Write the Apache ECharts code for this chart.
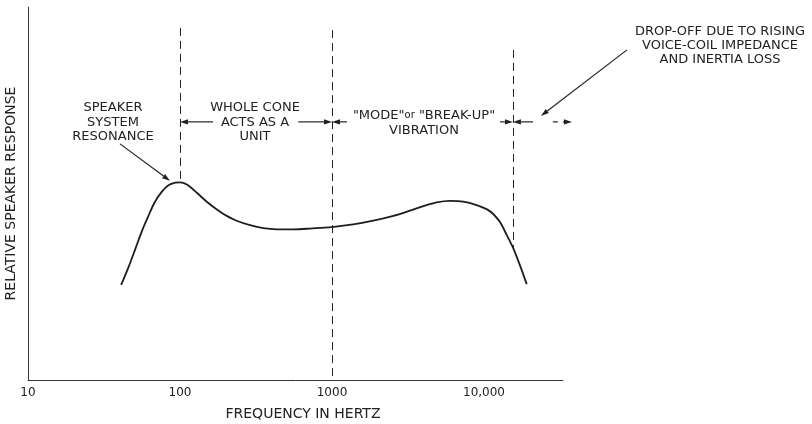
<!DOCTYPE html>
<html>
<head>
<meta charset="utf-8">
<style>
  html, body { margin: 0; padding: 0; background: #ffffff; }
  #chart { width: 812px; height: 424px; }
</style>
<script src="https://cdn.jsdelivr.net/npm/echarts@6/dist/echarts.min.js"></script>
</head>
<body>
<div id="chart"></div>
<script>
// Loudspeaker response curve (relative level vs frequency, log scale)
const freqHz = [41, 46, 51, 56, 62, 68, 76, 84, 93, 100,
                111, 129, 150, 174, 203, 236, 289, 353, 433, 557,
                717, 834, 1000, 1380, 1870, 2530, 3260, 3990, 4880, 5980,
                7310, 8950, 10400, 11500, 12800, 14100, 15600, 17300, 19100];
const response = [25.5, 30.4, 35.3, 39.8, 44.0, 47.6, 50.5, 52.2, 52.9, 53.0,
                  52.4, 50.2, 47.8, 45.8, 44.0, 42.7, 41.5, 40.7, 40.4, 40.4,
                  40.6, 40.8, 41.0, 41.7, 42.7, 44.0, 45.4, 46.6, 47.6, 48.0,
                  47.8, 46.9, 45.8, 44.5, 42.2, 38.9, 35.3, 30.6, 25.7];

// Frequency tick labels
const xTickLabels = [10, 100, 1000, 10000];

// Region boundaries (dashed verticals): frequency, top and bottom level
const boundaryHz = [100, 1000, 15500];
const boundaryTop = [94.4, 93.8, 88.5];
const boundaryBottom = [53.0, 0, 35.4];

// Span arrows marking the regions, all on one level
const spanFromHz = [165, 600, 1255, 12750, 21000, 28400];
const spanToHz = [100, 1000, 1000, 15500, 15500, 37900];
const spanDashed = [0, 0, 0, 0, 0, 1];
const spanLevel = 69.2;

// Leader arrows from the notes to the curve
const leaderFrom = [[40.3, 63.3], [87300, 88.5]];
const leaderTo = [[85.9, 53.4], [23700, 70.8]];

// Note texts
const noteResonance = 'SPEAKER\nSYSTEM\nRESONANCE';
const noteWholeCone = 'WHOLE CONE\nACTS AS A\nUNIT';
const noteDropOff = 'DROP-OFF DUE TO RISING\nVOICE-COIL IMPEDANCE\nAND INERTIA LOSS';

const INK = '#222222';
const FONT = 'DejaVu Sans';

const curveData = freqHz.map((f, i) => [f, response[i]]);
const boundaryData = boundaryHz.map((f, i) => [f, boundaryTop[i], f, boundaryBottom[i]]);
const arrowData = spanFromHz.map((f, i) => [f, spanLevel, spanToHz[i], spanLevel, spanDashed[i]])
  .concat(leaderFrom.map((p, i) => [p[0], p[1], leaderTo[i][0], leaderTo[i][1], 0]));

// Dashed vertical, snapped to the pixel grid so it stays crisp
function renderBoundary(params, api) {
  const a = api.coord([api.value(0), api.value(1)]);
  const b = api.coord([api.value(2), api.value(3)]);
  const x = Math.round(a[0]) + 0.5;
  return {
    type: 'line',
    shape: { x1: x, y1: a[1], x2: x, y2: b[1] },
    style: { stroke: INK, lineWidth: 1, lineDash: [8, 5] }
  };
}

// Straight shaft with a filled head at the second point
function renderArrow(params, api) {
  const a = api.coord([api.value(0), api.value(1)]);
  const b = api.coord([api.value(2), api.value(3)]);
  const dashed = api.value(4) === 1;
  const dx = b[0] - a[0], dy = b[1] - a[1];
  const len = Math.hypot(dx, dy) || 1;
  const ux = dx / len, uy = dy / len;
  const headLen = 8, headHalf = 2.6;
  const bx = b[0] - ux * headLen, by = b[1] - uy * headLen;
  return {
    type: 'group',
    children: [
      {
        type: 'line',
        shape: { x1: a[0], y1: a[1], x2: bx, y2: by },
        style: { stroke: INK, lineWidth: 1.2, lineDash: dashed ? [5, 5] : null }
      },
      {
        type: 'polygon',
        shape: { points: [[b[0], b[1]], [bx - uy * headHalf, by + ux * headHalf], [bx + uy * headHalf, by - ux * headHalf]] },
        style: { fill: INK }
      }
    ]
  };
}

function formatHz(v) {
  const n = Math.round(v);
  return n >= 10000 ? String(n).replace(/\B(?=(\d{3})+(?!\d))/g, ',') : String(n);
}

const noteStyle = { fill: INK, fontFamily: FONT, fontSize: 13, align: 'center', verticalAlign: 'middle', lineHeight: 14.5 };

const chart = echarts.init(document.getElementById('chart'), null, { renderer: 'canvas' });
chart.setOption({
  animation: false,
  backgroundColor: '#ffffff',
  grid: { left: 28, right: 249, top: 7, bottom: 44, containLabel: false, outerBoundsMode: 'none' },
  xAxis: {
    type: 'log',
    logBase: 10,
    min: 10,
    max: 33100,
    axisLine: { show: true, lineStyle: { color: '#3a3a3a', width: 1 } },
    axisTick: { show: false },
    splitLine: { show: false },
    axisLabel: {
      customValues: xTickLabels,
      formatter: formatHz,
      margin: 7,
      fontSize: 12,
      fontFamily: FONT,
      color: INK
    },
    name: 'FREQUENCY IN HERTZ',
    nameLocation: 'middle',
    nameGap: 27,
    nameTextStyle: { fontSize: 14, fontFamily: FONT, color: INK, padding: [0, 0, 0, 15] }
  },
  yAxis: {
    type: 'value',
    min: 0,
    max: 100,
    axisLine: { show: true, lineStyle: { color: '#3a3a3a', width: 1 } },
    axisTick: { show: false },
    axisLabel: { show: false },
    splitLine: { show: false },
    name: 'RELATIVE SPEAKER RESPONSE',
    nameLocation: 'middle',
    nameGap: 10,
    nameTextStyle: { fontSize: 14, fontFamily: FONT, color: INK }
  },
  series: [
    {
      type: 'line',
      data: curveData,
      smooth: 0.3,
      showSymbol: false,
      lineStyle: { color: '#1e1e1e', width: 1.8 },
      z: 3
    },
    {
      type: 'custom',
      data: boundaryData,
      renderItem: renderBoundary,
      encode: { x: [0, 2], y: [1, 3] },
      clip: false,
      silent: true,
      z: 2
    },
    {
      type: 'custom',
      data: arrowData,
      renderItem: renderArrow,
      encode: { x: [0, 2], y: [1, 3] },
      clip: false,
      silent: true,
      z: 4
    }
  ],
  graphic: [
    { type: 'text', x: 113, y: 122.5, style: Object.assign({ text: noteResonance }, noteStyle) },
    { type: 'text', x: 255, y: 122.5, style: Object.assign({ text: noteWholeCone }, noteStyle) },
    {
      type: 'text', x: 424, y: 123,
      style: Object.assign({
        text: '{t|"MODE"}{s|or} {t|"BREAK-UP"}\n{t|VIBRATION}',
        rich: {
          t: { fontFamily: FONT, fontSize: 13, fill: INK, lineHeight: 14.5 },
          s: { fontFamily: FONT, fontSize: 10, fill: INK, lineHeight: 14.5 }
        }
      }, noteStyle)
    },
    { type: 'text', x: 720, y: 46, style: Object.assign({ text: noteDropOff }, noteStyle, { lineHeight: 14 }) }
  ]
});
</script>
</body>
</html>
